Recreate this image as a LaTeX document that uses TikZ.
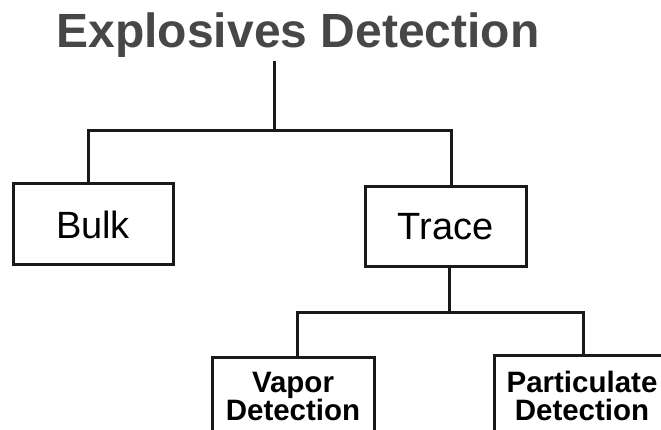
\documentclass[tikz,border=0pt]{standalone}
\usepackage{fontspec}
\setmainfont{Liberation Sans}
\begin{document}
\begin{tikzpicture}[x=1pt, y=-1pt,
    headline/.style={anchor=base, inner sep=3pt, text=black!72, font=\bfseries\fontsize{48}{52}\selectfont},
    bigbox/.style={draw=black!90, line width=3pt, fill=white, font=\fontsize{38}{42}\selectfont},
    smallbox/.style={draw=black!90, line width=3pt, fill=white, align=center, font=\bfseries\fontsize{29.5}{28}\selectfont},
    link/.style={draw=black!90, line width=3pt}]
    \useasboundingbox (0,0) rectangle (661,430);

    % Title
    \node[headline] (title) at (298,48) {Explosives Detection};

    % First level
    \node[bigbox, minimum width=160pt, minimum height=81pt] (bulk) at (93,224.5) {Bulk};
    \node[bigbox, minimum width=161pt, minimum height=80pt] (trace) at (445.5,227) {Trace};

    % Second level
    \node[smallbox, minimum width=162pt, minimum height=78pt] (vapor) at (293,396) {Vapor\\Detection};
    \node[smallbox, minimum width=175pt, minimum height=82pt] (part) at (582,396) {Particulate\\Detection};

    % Branch points
    \coordinate (top) at (274,131);
    \coordinate (mid) at (449,312);

    % Connections
    \draw[link] (title.south -| top) -- (top);
    \draw[link] ([xshift=-4.5pt]bulk.north) |- (top) -| ([xshift=6pt]trace.north);
    \draw[link] (trace.south -| mid) -- (mid);
    \draw[link] ([xshift=4pt]vapor.north) |- (mid) -| ([xshift=1pt]part.north);
\end{tikzpicture}
\end{document}
